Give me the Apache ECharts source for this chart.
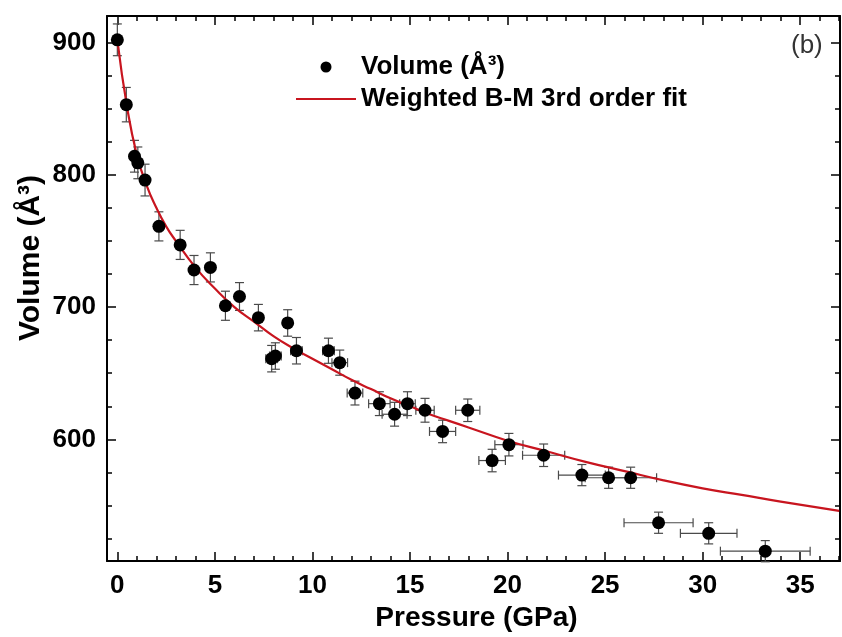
<!DOCTYPE html>
<html>
<head>
<meta charset="utf-8">
<script src="https://cdn.jsdelivr.net/npm/echarts@6/dist/echarts.min.js"></script>
<style>
  html, body { margin: 0; padding: 0; background: #fff; }
  #chart { width: 842px; height: 637px; }
</style>
</head>
<body>
<div id="chart"></div>
<script>
// Measured unit-cell volume vs pressure, with error bars
const pressure = [0, 0.46, 0.88, 1.05, 1.42, 2.13, 3.22, 3.93, 4.77, 5.54, 6.26, 7.23, 7.91, 8.10, 8.73, 9.18, 10.82, 11.40, 12.18, 13.43, 14.21, 14.87, 15.77, 16.67, 17.96, 19.21, 20.07, 21.85, 23.81, 25.18, 26.31, 27.74, 30.31, 33.21];
const volume = [902, 853, 814, 809, 796, 761, 747, 728, 730, 701, 708, 692, 661, 663, 688, 667, 667, 658, 635, 627, 619, 627, 622, 606, 622, 584, 596, 588, 573, 571, 571, 537, 529, 515.5];
const pressureErr = [0, 0, 0, 0, 0, 0, 0, 0, 0, 0, 0, 0, 0.3, 0.3, 0.2, 0.3, 0.3, 0.4, 0.4, 0.55, 0.64, 0.4, 0.47, 0.67, 0.62, 0.68, 0.72, 1.08, 1.2, 1.2, 1.33, 1.77, 1.45, 2.3];
const volumeErr = [12, 13, 12, 12, 12, 11, 11, 11, 11, 11, 10.5, 10, 10, 10, 10, 10, 9.5, 9.5, 9, 9, 9, 9, 9, 8.5, 8.5, 8.5, 8.5, 8.5, 8, 8, 8, 8, 8, 8];

// Weighted third-order Birch-Murnaghan fit curve
const fitPressure = [0, 0.5, 1, 1.5, 2, 2.5, 3, 4, 5, 6, 7, 8, 9, 10, 11, 12, 13, 14, 15, 16, 17, 18, 20, 22, 24, 26, 28, 30, 32, 34, 37];
const fitVolume = [902, 851, 815, 792, 775, 761, 750, 730, 714, 700, 689, 678, 669, 661, 653, 645, 638, 631, 625, 619, 614, 609, 599, 591, 583, 576, 569, 563, 558, 553, 546];

// Axis ticks and labels
const xMajor = [0, 5, 10, 15, 20, 25, 30, 35];
const xMinor = [0, 1, 2, 3, 4, 5, 6, 7, 8, 9, 10, 11, 12, 13, 14, 15, 16, 17, 18, 19, 20, 21, 22, 23, 24, 25, 26, 27, 28, 29, 30, 31, 32, 33, 34, 35, 36, 37];
const yMajor = [600, 700, 800, 900];
const yMinor = [525, 550, 575, 600, 625, 650, 675, 700, 725, 750, 775, 800, 825, 850, 875, 900];

const X_MIN = -0.53, X_MAX = 37.04, Y_MIN = 508, Y_MAX = 920;
const FONT = '"Liberation Sans", Arial, Helvetica, sans-serif';

const chart = echarts.init(document.getElementById('chart'), null, { renderer: 'canvas' });

const points = pressure.map((p, i) => [p, volume[i], pressureErr[i], volumeErr[i]]);
const fit = fitPressure.map((p, i) => [p, fitVolume[i]]);

function xAxisDef(position, ticks, len, showLine, showLabel) {
  return {
    type: 'value', position, min: X_MIN, max: X_MAX,
    axisLine: { show: showLine, onZero: false, lineStyle: { color: '#000', width: 2 } },
    axisTick: { show: true, inside: true, length: len, customValues: ticks, lineStyle: { color: '#000', width: 1.5 } },
    axisLabel: showLabel
      ? { show: true, customValues: xMajor, margin: 12, color: '#000', fontFamily: FONT, fontWeight: 'bold', fontSize: 26 }
      : { show: false },
    splitLine: { show: false }
  };
}
function yAxisDef(position, ticks, len, showLine, showLabel) {
  return {
    type: 'value', position, min: Y_MIN, max: Y_MAX,
    axisLine: { show: showLine, onZero: false, lineStyle: { color: '#000', width: 2 } },
    axisTick: { show: true, inside: true, length: len, customValues: ticks, lineStyle: { color: '#000', width: 1.5 } },
    axisLabel: showLabel
      ? { show: true, customValues: yMajor, margin: 11, color: '#000', fontFamily: FONT, fontWeight: 'bold', fontSize: 26 }
      : { show: false },
    splitLine: { show: false }
  };
}

const xAxes = [
  xAxisDef('bottom', xMajor, 9, true, true),
  xAxisDef('bottom', xMinor, 5, false, false),
  xAxisDef('top', xMajor, 9, true, false),
  xAxisDef('top', xMinor, 5, false, false)
];
xAxes[0].name = 'Pressure (GPa)';
xAxes[0].nameLocation = 'middle';
xAxes[0].nameGap = 40;
xAxes[0].nameTextStyle = { color: '#000', fontFamily: FONT, fontWeight: 'bold', fontSize: 28, padding: [0, 0, 0, 6] };

const yAxes = [
  yAxisDef('left', yMajor, 9, true, true),
  yAxisDef('left', yMinor, 5, false, false),
  yAxisDef('right', yMajor, 9, true, false),
  yAxisDef('right', yMinor, 5, false, false)
];

function renderErrorBars(params, api) {
  const p = api.value(0), v = api.value(1), pe = api.value(2), ve = api.value(3);
  const style = { stroke: '#4a4a4a', lineWidth: 1.2 };
  const cap = 4.5;
  const children = [];
  const top = api.coord([p, v + ve]);
  const bot = api.coord([p, v - ve]);
  children.push({ type: 'line', shape: { x1: top[0], y1: top[1], x2: bot[0], y2: bot[1] }, style });
  children.push({ type: 'line', shape: { x1: top[0] - cap, y1: top[1], x2: top[0] + cap, y2: top[1] }, style });
  children.push({ type: 'line', shape: { x1: bot[0] - cap, y1: bot[1], x2: bot[0] + cap, y2: bot[1] }, style });
  if (pe > 0) {
    const l = api.coord([p - pe, v]);
    const r = api.coord([p + pe, v]);
    children.push({ type: 'line', shape: { x1: l[0], y1: l[1], x2: r[0], y2: r[1] }, style });
    children.push({ type: 'line', shape: { x1: l[0], y1: l[1] - cap, x2: l[0], y2: l[1] + cap }, style });
    children.push({ type: 'line', shape: { x1: r[0], y1: r[1] - cap, x2: r[0], y2: r[1] + cap }, style });
  }
  return { type: 'group', children };
}

chart.setOption({
  backgroundColor: '#fff',
  animation: false,
  grid: { left: 107, right: 2, top: 16, bottom: 72, containLabel: false },
  xAxis: xAxes,
  yAxis: yAxes,
  legend: {
    orient: 'vertical', left: 290, top: 49,
    itemWidth: 60, itemHeight: 11, itemGap: 6,
    textStyle: { color: '#000', fontFamily: FONT, fontWeight: 'bold', fontSize: 26 },
    data: [
      { name: 'Volume (Å³)', icon: 'circle' },
      { name: 'Weighted B-M 3rd order fit', itemStyle: { opacity: 0 } }
    ]
  },
  graphic: [
    {
      type: 'text', left: 791, top: 33,
      style: { text: '(b)', fill: '#333', font: '26px ' + FONT }
    },
    {
      // y-axis title, rotated
      type: 'text', x: 31, y: 258, rotation: Math.PI / 2,
      style: { text: 'Volume (Å³)', fill: '#000', font: 'bold 30px ' + FONT, align: 'center', verticalAlign: 'middle' }
    }
  ],
  series: [
    {
      type: 'custom', name: 'errors', xAxisIndex: 0, yAxisIndex: 0,
      renderItem: renderErrorBars, data: points, z: 2, silent: true,
      encode: { x: 0, y: 1 }
    },
    {
      type: 'line', name: 'Weighted B-M 3rd order fit', xAxisIndex: 0, yAxisIndex: 0,
      data: fit, smooth: true, showSymbol: false, symbol: 'none',
      lineStyle: { color: '#c8151f', width: 2.2 }, itemStyle: { color: '#c8151f' }, z: 3
    },
    {
      type: 'scatter', name: 'Volume (Å³)', xAxisIndex: 0, yAxisIndex: 0,
      data: points.map(d => [d[0], d[1]]), symbol: 'circle', symbolSize: 13,
      itemStyle: { color: '#000', opacity: 1 }, z: 4
    }
  ]
});
</script>
</body>
</html>
